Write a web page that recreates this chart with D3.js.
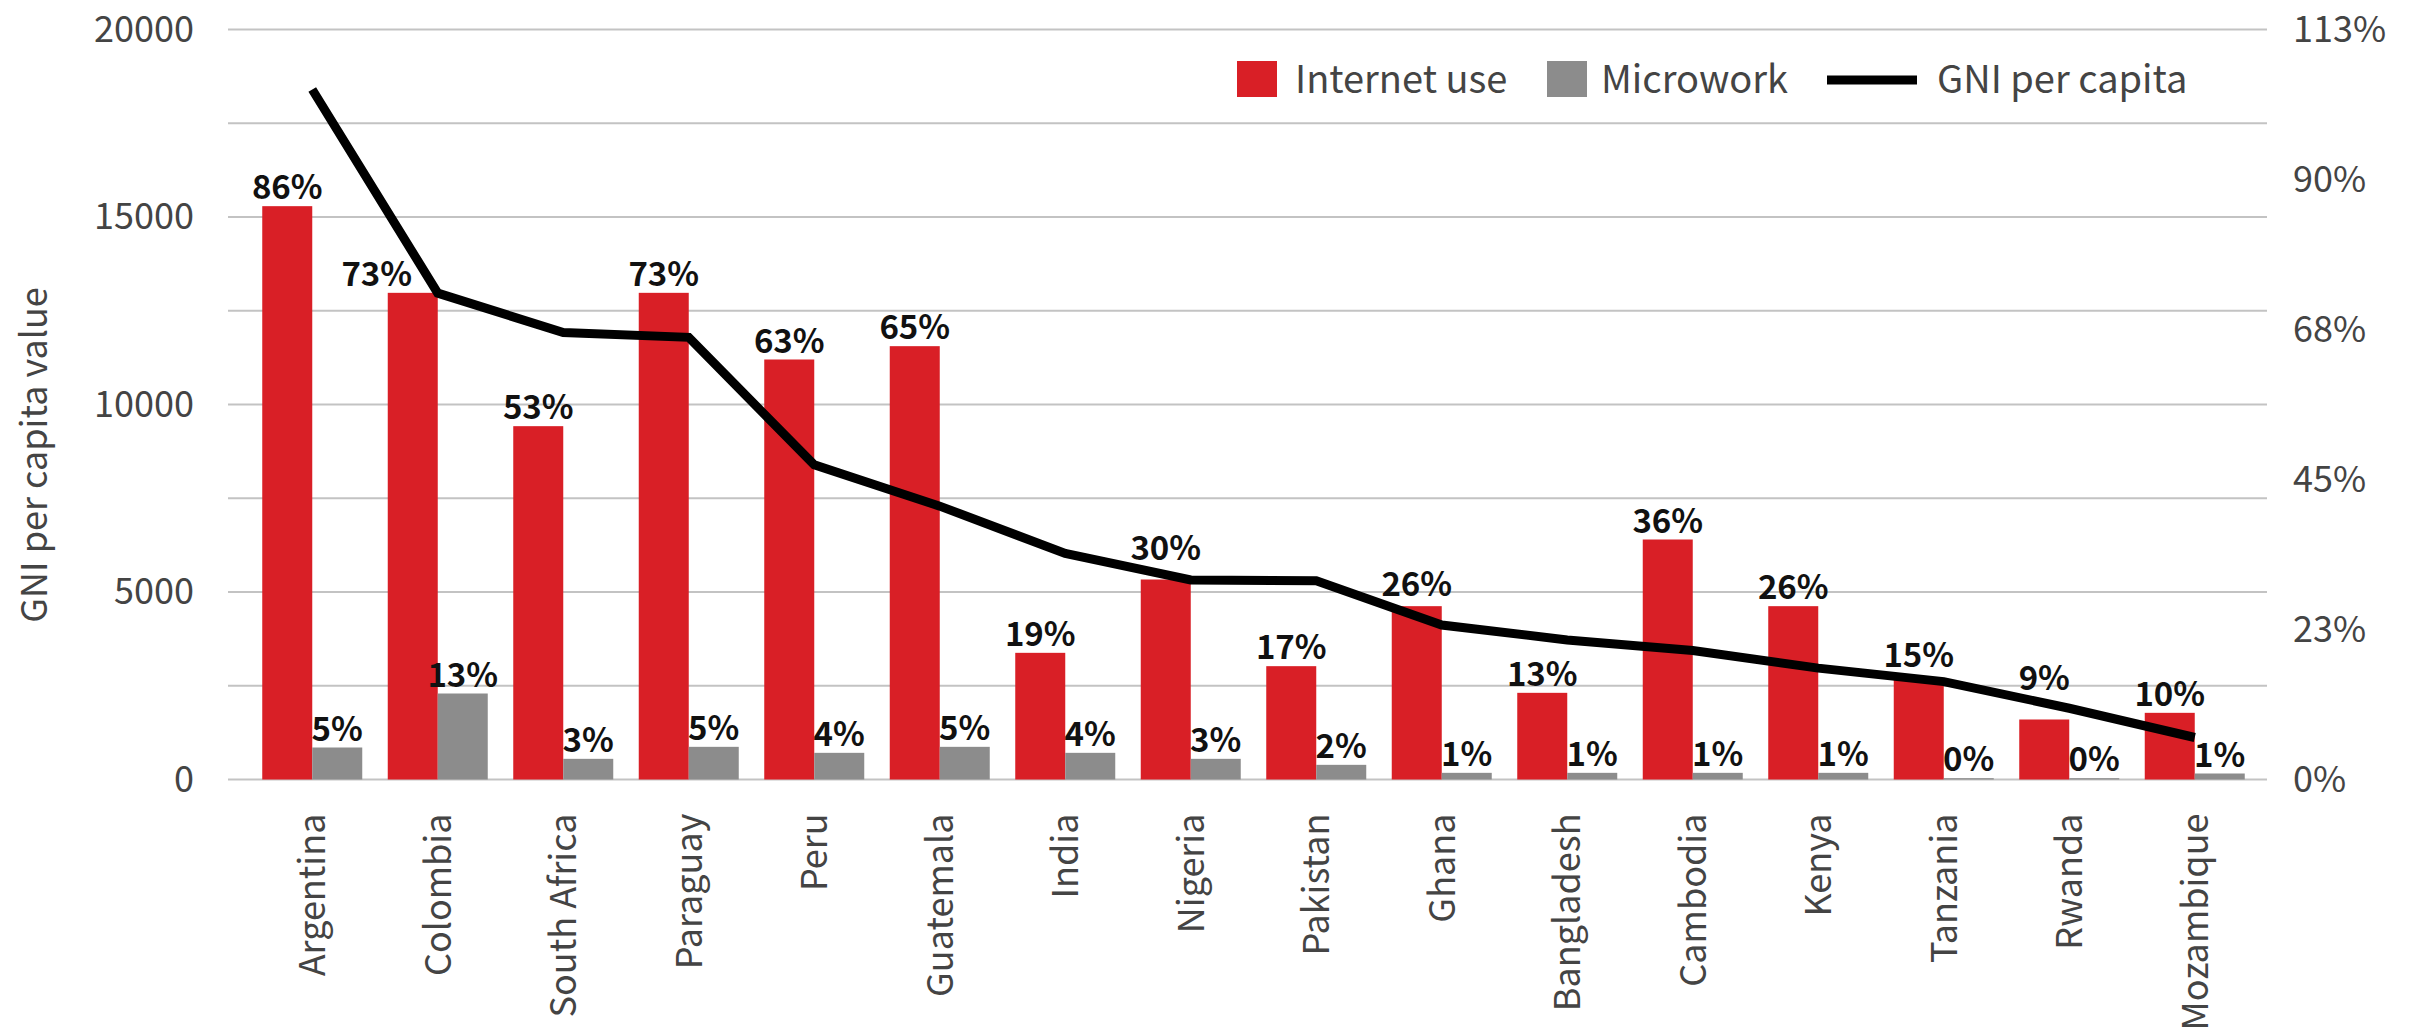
<!DOCTYPE html>
<html>
<head>
<meta charset="utf-8">
<script src="https://cdn.jsdelivr.net/npm/d3@7"></script>
<style>
  html, body { margin: 0; padding: 0; background: #ffffff; }
  svg { display: block; }
  text { font-family: "Noto Sans CJK JP", "Noto Sans", sans-serif; }
</style>
</head>
<body>
<svg id="chart" width="2419" height="1032"></svg>
<script>
// Countries, ordered by GNI per capita
const countries = ["Argentina", "Colombia", "South Africa", "Paraguay", "Peru", "Guatemala",
  "India", "Nigeria", "Pakistan", "Ghana", "Bangladesh", "Cambodia", "Kenya", "Tanzania",
  "Rwanda", "Mozambique"];

// Share of population using the internet (%)
const internetUse = [86, 73, 53, 73, 63, 65, 19, 30, 17, 26, 13, 36, 26, 15, 9, 10];

// Share of population doing online microwork (%)
const microwork = [4.8, 12.9, 3.1, 4.9, 4.0, 4.9, 4.0, 3.1, 2.2, 1.0, 1.0, 1.0, 1.0, 0.2, 0.2, 0.9];

// GNI per capita (PPP, current international $)
const gniPerCapita = [18400, 12970, 11920, 11790, 8390, 7290, 6030, 5320, 5300, 4120, 3720,
  3440, 2970, 2610, 1900, 1120];

// Axis ticks
const leftTicks = [0, 5000, 10000, 15000, 20000];
const gridTicks = [0, 2500, 5000, 7500, 10000, 12500, 15000, 17500, 20000];
const rightTicks = [0, 22.5, 45, 67.5, 90, 112.5];

const seriesNames = ["Internet use", "Microwork", "GNI per capita"];

const COLORS = { internet: "#d91f26", micro: "#8c8c8c", line: "#000000", grid: "#c3c3c3", axisText: "#444444" };

const svg = d3.select("#chart");

const plotLeft = 228, plotRight = 2267;
const yTop = 29.5, yBottom = 779.5;

const rows = countries.map((c, i) => ({
  country: c, internet: internetUse[i], micro: microwork[i], gni: gniPerCapita[i]
}));

const x = d3.scaleBand()
  .domain(countries)
  .range([249.5, 2257.5])
  .paddingInner(0.2032)
  .paddingOuter(0.1016);

const xSub = d3.scaleBand()
  .domain(["internet", "micro"])
  .range([0, x.bandwidth()]);

const yLeft = d3.scaleLinear().domain([0, 20000]).range([yBottom, yTop]);
const yRight = d3.scaleLinear().domain([0, 112.5]).range([yBottom, yTop]);

// Horizontal gridlines
svg.append("g")
  .selectAll("line")
  .data(gridTicks)
  .join("line")
  .attr("x1", plotLeft)
  .attr("x2", plotRight)
  .attr("y1", d => yLeft(d))
  .attr("y2", d => yLeft(d))
  .attr("stroke", COLORS.grid)
  .attr("stroke-width", 2);

// Left axis (GNI)
const leftAxis = svg.append("g")
  .attr("transform", `translate(${plotLeft},0)`)
  .call(d3.axisLeft(yLeft).tickValues(leftTicks).tickSize(0).tickPadding(34).tickFormat(d3.format("d")));
leftAxis.select(".domain").remove();
leftAxis.selectAll("text")
  .attr("fill", COLORS.axisText)
  .style("font-size", "36px");

// Right axis (percent)
const rightAxis = svg.append("g")
  .attr("transform", `translate(${plotRight},0)`)
  .call(d3.axisRight(yRight).tickValues(rightTicks).tickSize(0).tickPadding(26)
    .tickFormat(d => d3.format(".0f")(d) + "%"));
rightAxis.select(".domain").remove();
rightAxis.selectAll("text")
  .attr("fill", COLORS.axisText)
  .style("font-size", "36px");

// Category axis with vertical labels
const bottomAxis = svg.append("g")
  .attr("transform", `translate(0,${yBottom})`)
  .call(d3.axisBottom(x).tickSize(0));
bottomAxis.select(".domain").remove();
bottomAxis.selectAll("text")
  .attr("transform", "rotate(-90)")
  .attr("x", -34)
  .attr("y", 0)
  .attr("dy", "0.36em")
  .attr("text-anchor", "end")
  .attr("fill", COLORS.axisText)
  .style("font-size", "36px");

// Left axis title
svg.append("text")
  .attr("transform", "translate(34,455) rotate(-90)")
  .attr("text-anchor", "middle")
  .attr("dy", "0.36em")
  .attr("fill", COLORS.axisText)
  .style("font-size", "36px")
  .text("GNI per capita value");

// Bars
const groups = svg.append("g")
  .selectAll("g")
  .data(rows)
  .join("g")
  .attr("transform", d => `translate(${x(d.country)},0)`);

groups.append("rect")
  .attr("x", xSub("internet"))
  .attr("width", xSub.bandwidth())
  .attr("y", d => yRight(d.internet))
  .attr("height", d => yBottom - yRight(d.internet))
  .attr("fill", COLORS.internet);

groups.append("rect")
  .attr("x", xSub("micro"))
  .attr("width", xSub.bandwidth())
  .attr("y", d => yRight(d.micro))
  .attr("height", d => yBottom - yRight(d.micro))
  .attr("fill", COLORS.micro);

// GNI line
const lineGen = d3.line()
  .x(d => x(d.country) + x.bandwidth() / 2)
  .y(d => yLeft(d.gni));

const LINE_WIDTH = 9;
svg.append("path")
  .datum(rows)
  .attr("d", lineGen)
  .attr("fill", "none")
  .attr("stroke", COLORS.line)
  .attr("stroke-width", LINE_WIDTH)
  .attr("stroke-linejoin", "miter");

// Value labels
const pct = d => d3.format(".0f")(d) + "%";
const labelLayer = svg.append("g");
const LABEL_GAP = 7;

const labelData = [];
rows.forEach(d => {
  labelData.push({ cx: x(d.country) + xSub("internet") + xSub.bandwidth() / 2, y: yRight(d.internet) - LABEL_GAP, v: d.internet });
  labelData.push({ cx: x(d.country) + xSub("micro") + xSub.bandwidth() / 2, y: yRight(d.micro) - LABEL_GAP, v: d.micro });
});

const labels = labelLayer.selectAll("text")
  .data(labelData)
  .join("text")
  .attr("x", d => d.cx)
  .attr("y", d => d.y)
  .attr("text-anchor", "middle")
  .attr("fill", "#111111")
  .style("font-size", "33px")
  .style("font-weight", "700")
  .text(d => pct(d.v));

// Sample the line so labels can be moved off it
const linePts = [];
for (let i = 0; i < rows.length - 1; i++) {
  const x0 = x(rows[i].country) + x.bandwidth() / 2, y0 = yLeft(rows[i].gni);
  const x1 = x(rows[i + 1].country) + x.bandwidth() / 2, y1 = yLeft(rows[i + 1].gni);
  const n = Math.ceil(Math.hypot(x1 - x0, y1 - y0));
  for (let k = 0; k <= n; k++) linePts.push([x0 + (x1 - x0) * k / n, y0 + (y1 - y0) * k / n]);
}
function hitsLine(b, dx, dy) {
  const my = LINE_WIDTH / 2 + 3;
  const l = b.x + dx + 2, r = b.x + b.width + dx;
  const t = b.y + b.height * 0.22 + dy - my, btm = b.y + b.height * 0.8 + dy + my;
  return linePts.some(p => p[0] > l && p[0] < r && p[1] > t && p[1] < btm);
}
labels.each(function () {
  const b = this.getBBox();
  const candidates = [];
  for (let s = 0; s <= 30; s += 1) candidates.push([0, -s]);
  for (let s = 2; s <= 80; s += 2) candidates.push([-s, 0]);
  const ok = candidates.find(([dx, dy]) => !hitsLine(b, dx, dy)) || [0, 0];
  d3.select(this).attr("transform", `translate(${ok[0]},${ok[1]})`);
});

// Legend
const legend = svg.append("g");
const legendFont = "38px";
legend.append("rect").attr("x", 1237).attr("y", 61).attr("width", 40).attr("height", 36).attr("fill", COLORS.internet);
legend.append("text").attr("x", 1295).attr("y", 79).attr("dy", "0.36em").attr("fill", COLORS.axisText)
  .style("font-size", legendFont).text(seriesNames[0]);
legend.append("rect").attr("x", 1547).attr("y", 61).attr("width", 40).attr("height", 36).attr("fill", COLORS.micro);
legend.append("text").attr("x", 1601).attr("y", 79).attr("dy", "0.36em").attr("fill", COLORS.axisText)
  .style("font-size", legendFont).text(seriesNames[1]);
legend.append("line").attr("x1", 1827).attr("x2", 1917).attr("y1", 80).attr("y2", 80)
  .attr("stroke", COLORS.line).attr("stroke-width", LINE_WIDTH);
legend.append("text").attr("x", 1937).attr("y", 79).attr("dy", "0.36em").attr("fill", COLORS.axisText)
  .style("font-size", legendFont).text(seriesNames[2]);
</script>
</body>
</html>
